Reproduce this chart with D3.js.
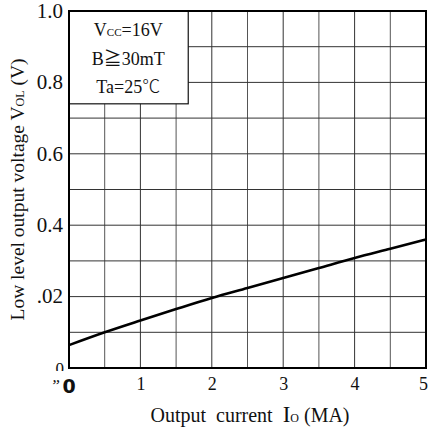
<!DOCTYPE html>
<html>
<head>
  <meta charset="utf-8" />
  <style>
    body { margin: 0; background: #ffffff; }
    svg { display: block; }
    text { fill: #111; }
  </style>
  <script src="https://cdnjs.cloudflare.com/ajax/libs/d3/7.8.5/d3.min.js"></script>
</head>
<body>
  <div id="chart"></div>
  <script>
    // curve
    var currentMA = [0, 0.5, 1, 1.5, 2, 2.5, 3, 3.5, 4, 4.5, 5];
    var voltageV = [0.064, 0.1, 0.133, 0.165, 0.196, 0.224, 0.252, 0.28, 0.308, 0.334, 0.36];

    var xTickValues = [1, 2, 3, 4, 5];
    var yTickValues = [0.2, 0.4, 0.6, 0.8, 1.0];
    var yTickLabels = [".02", "0.4", "0.6", "0.8", "1.0"];
    var gridX = d3.range(0, 5.01, 0.5);
    var gridY = d3.range(0, 1.01, 0.1);

    var serif = "'Liberation Serif', 'Times New Roman', 'DejaVu Serif', serif";
    var cjk = "'Noto Sans CJK JP', 'Noto Sans CJK SC', sans-serif";

    var w = 431, h = 429;
    var margin = { top: 11, right: 5, bottom: 61, left: 69 };

    var x = d3.scaleLinear().domain([0, 5]).range([margin.left, w - margin.right]);
    var y = d3.scaleLinear().domain([0, 1]).range([h - margin.bottom, margin.top]);

    var svg = d3.select("#chart").append("svg")
      .attr("width", w)
      .attr("height", h)
      .attr("font-family", serif);

    // grid
    svg.append("g")
      .selectAll("line")
      .data(gridX)
      .enter().append("line")
      .attr("x1", function (d) { return x(d); })
      .attr("x2", function (d) { return x(d); })
      .attr("y1", y(0))
      .attr("y2", y(1))
      .attr("stroke", function (d, i) { return i % 2 ? "#555" : "#333"; })
      .attr("stroke-width", 1);

    svg.append("g")
      .selectAll("line")
      .data(gridY)
      .enter().append("line")
      .attr("x1", x(0))
      .attr("x2", x(5))
      .attr("y1", function (d) { return y(d); })
      .attr("y2", function (d) { return y(d); })
      .attr("stroke", "#333")
      .attr("stroke-width", 1);

    // condition box covers the grid in the top left
    svg.append("rect")
      .attr("x", x(0))
      .attr("y", y(1))
      .attr("width", x(1.67) - x(0))
      .attr("height", y(0.74) - y(1))
      .attr("fill", "#fff")
      .attr("stroke", "#111")
      .attr("stroke-width", 1.2);

    var cond = svg.append("g").attr("font-size", "18px").attr("text-anchor", "middle");
    var vcc = cond.append("text").attr("x", x(0.83)).attr("y", y(0.93));
    vcc.append("tspan").text("V");
    vcc.append("tspan").attr("font-size", "11px").text("CC");
    vcc.append("tspan").text("=16V");
    var bl = cond.append("text").attr("x", x(0.83)).attr("y", y(0.85));
    bl.append("tspan").text("B");
    bl.append("tspan").attr("font-family", cjk).text("\u2267");
    bl.append("tspan").text("30mT");
    var ta = cond.append("text").attr("x", x(0.83)).attr("y", y(0.77));
    ta.append("tspan").text("Ta=25");
    ta.append("tspan").attr("font-family", cjk).attr("font-weight", 300).text("\u2103");

    // frame
    svg.append("rect")
      .attr("x", x(0))
      .attr("y", y(1))
      .attr("width", x(5) - x(0))
      .attr("height", y(0) - y(1))
      .attr("fill", "none")
      .attr("stroke", "#000")
      .attr("stroke-width", 2);

    // curve
    var line = d3.line()
      .x(function (d, i) { return x(currentMA[i]); })
      .y(function (d) { return y(d); })
      .curve(d3.curveMonotoneX);

    svg.append("path")
      .datum(voltageV)
      .attr("d", line)
      .attr("fill", "none")
      .attr("stroke", "#000")
      .attr("stroke-width", 2.6);

    // y ticks
    var yAxis = svg.append("g")
      .attr("transform", "translate(" + (x(0) - 3) + ",0)")
      .call(d3.axisLeft(y).tickValues(yTickValues).tickSize(0)
        .tickFormat(function (d, i) { return yTickLabels[i]; }));
    yAxis.attr("font-family", serif).attr("font-size", "21px");
    yAxis.select(".domain").remove();
    yAxis.selectAll("text")
      .attr("fill", "#111")
      .attr("dy", "0.3em");

    // bottom "0" on y axis is cut off in the original
    svg.append("clipPath").attr("id", "zclip")
      .append("rect").attr("x", 40).attr("y", 350).attr("width", 30).attr("height", 21);
    svg.append("text")
      .attr("clip-path", "url(#zclip)")
      .attr("x", 64)
      .attr("y", 374)
      .attr("text-anchor", "end")
      .attr("font-size", "17px")
      .text("0");

    // x ticks
    var xAxis = svg.append("g")
      .attr("transform", "translate(0," + y(0) + ")")
      .call(d3.axisBottom(x).tickValues(xTickValues).tickSize(0)
        .tickFormat(d3.format("d")));
    xAxis.attr("font-family", serif).attr("font-size", "18px");
    xAxis.select(".domain").remove();
    xAxis.selectAll("text")
      .attr("fill", "#111")
      .attr("dy", "1.05em")
      .attr("dx", function (d) { return d === 5 ? -3 : 0; });

    svg.append("text")
      .attr("x", 69)
      .attr("y", 393)
      .attr("text-anchor", "middle")
      .attr("font-family", "'DejaVu Sans', sans-serif")
      .attr("font-weight", "bold")
      .attr("font-size", "19px")
      .text("0");
    svg.append("text")
      .attr("x", 60)
      .attr("y", 391)
      .attr("text-anchor", "end")
      .attr("font-size", "17px")
      .attr("font-style", "italic")
      .text("\u201D");

    // axis titles
    var xt = svg.append("text")
      .attr("x", 250)
      .attr("y", 422)
      .attr("text-anchor", "middle")
      .attr("font-size", "20px");
    xt.append("tspan").text("Output\u00a0 current\u00a0 ");
    xt.append("tspan").attr("font-size", "23px").text("I");
    xt.append("tspan").attr("font-size", "12px").text("O");
    xt.append("tspan").text(" (MA)");

    var yt = svg.append("text")
      .attr("transform", "translate(24," + ((y(0) + y(1)) / 2) + ") rotate(-90)")
      .attr("text-anchor", "middle")
      .attr("font-size", "19.5px");
    yt.append("tspan").text("Low level output voltage V");
    yt.append("tspan").attr("font-size", "12px").text("OL");
    yt.append("tspan").text(" (V)");
  </script>
</body>
</html>
